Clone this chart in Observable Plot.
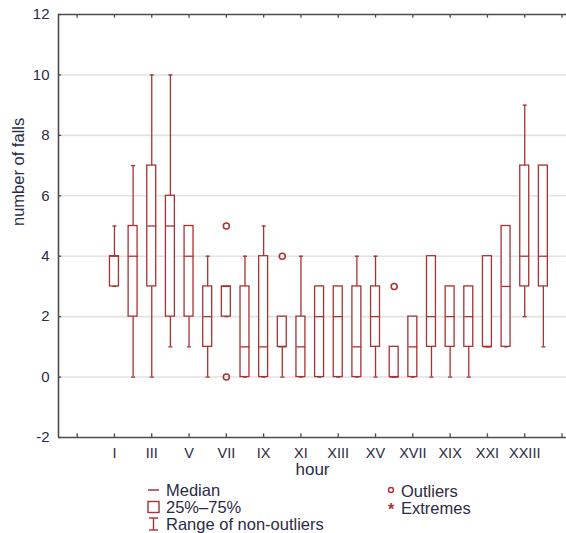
<!DOCTYPE html>
<html>
<head>
<meta charset="utf-8">
<script src="https://cdn.jsdelivr.net/npm/d3@7"></script>
<script src="https://cdn.jsdelivr.net/npm/@observablehq/plot@0.6"></script>
<style>
  html, body { margin: 0; padding: 0; background: #fff; }
  #wrap { position: relative; width: 566px; height: 533px; font-family: "Liberation Sans", Arial, sans-serif; color: #2b2b45; }
  .lg { position: absolute; font-size: 16.5px; line-height: 17px; height: 17px; white-space: nowrap; }
  .lg svg { position: absolute; left: -19px; top: 1px; overflow: visible; }
</style>
</head>
<body>
<div id="wrap"></div>
<script>
const hours = d3.range(1, 25);
const hourLabels = ["I","II","III","IV","V","VI","VII","VIII","IX","X","XI","XII","XIII","XIV","XV","XVI","XVII","XVIII","XIX","XX","XXI","XXII","XXIII","XXIV"];
const q1 =     [3,2,3,2,2,1,2,0,0,1,0,0,0,0,1,0,0,1,1,1,1,1,3,3];
const q3 =     [4,5,7,6,5,3,3,3,4,2,2,3,3,3,3,1,2,4,3,3,4,5,7,7];
const median = [4,4,5,5,4,2,3,1,1,1,1,2,2,1,2,0,1,2,2,2,1,3,4,4];
const lowWhisker =  [3,0,0,1,1,0,2,0,0,0,0,0,0,0,0,0,0,0,0,0,1,1,2,1];
const highWhisker = [5,7,10,10,5,4,3,4,5,2,4,3,3,4,4,1,2,4,3,3,4,5,9,7];
const outlierHours =  [7, 7, 10, 16];
const outlierValues = [5, 0, 4, 3];
const yTicks = [-2, 0, 2, 4, 6, 8, 10, 12];
const gridValues = [0, 2, 4, 6, 8, 10];
const xTickHours = [-1,1,3,5,7,9,11,13,15,17,19,21,23,25];

const boxes = hours.map((h, i) => ({h, q1: q1[i], q3: q3[i], med: median[i], lo: lowWhisker[i], hi: highWhisker[i]}));
const outliers = outlierHours.map((h, i) => ({h, v: outlierValues[i]}));

const red = "#a83232";
const frameColor = "#4d4d4d";
const textColor = "#2b2b45";
const bw = 0.24, cw = 0.11;

const chart = Plot.plot({
  width: 566,
  height: 480,
  marginTop: 14,
  marginBottom: 43,
  marginLeft: 58,
  marginRight: 0,
  style: {fontFamily: '"Liberation Sans", Arial, sans-serif', color: textColor, background: "#fff"},
  x: {domain: [-2, 25.24]},
  y: {domain: [-2, 12]},
  marks: [
    Plot.ruleY(gridValues, {stroke: "#e2e2e2", strokeWidth: 1.6}),
    Plot.axisY({ticks: yTicks, tickSize: 0, tickPadding: 9, fontSize: 15, label: null, fill: textColor, tickFormat: d => String(d)}),
    Plot.axisX({ticks: xTickHours.filter(t => t >= 1 && t <= 24), tickSize: 0, tickPadding: 10, fontSize: 14.5, label: null, fill: textColor,
      tickFormat: t => hourLabels[t - 1]}),
    // inner tick marks
    Plot.ruleX(xTickHours, {x: d => d, y1: -2, y2: -1.88, stroke: frameColor, strokeWidth: 1.3}),
    Plot.ruleX(xTickHours, {x: d => d, y1: 12, y2: 11.88, stroke: frameColor, strokeWidth: 1.3}),
    Plot.ruleY(yTicks, {y: d => d, x1: -2, x2: -1.83, stroke: frameColor, strokeWidth: 1.3}),
    // whiskers
    Plot.ruleX(boxes, {x: "h", y1: "lo", y2: "q1", stroke: red, strokeWidth: 1.3}),
    Plot.ruleX(boxes, {x: "h", y1: "q3", y2: "hi", stroke: red, strokeWidth: 1.3}),
    Plot.link(boxes, {x1: d => d.h - cw, x2: d => d.h + cw, y1: "lo", y2: "lo", stroke: red, strokeWidth: 1.3}),
    Plot.link(boxes, {x1: d => d.h - cw, x2: d => d.h + cw, y1: "hi", y2: "hi", stroke: red, strokeWidth: 1.3}),
    // boxes
    Plot.rect(boxes, {x1: d => d.h - bw, x2: d => d.h + bw, y1: "q1", y2: "q3", fill: "white", stroke: red, strokeWidth: 1.3}),
    Plot.link(boxes, {x1: d => d.h - bw, x2: d => d.h + bw, y1: "med", y2: "med", stroke: red, strokeWidth: 1.3}),
    // outliers
    Plot.dot(outliers, {x: "h", y: "v", r: 3, stroke: red, strokeWidth: 1.5, fill: "none"}),
    // frame
    Plot.ruleX([-2], {stroke: frameColor, strokeWidth: 1.6}),
    Plot.ruleY([-2, 12], {stroke: frameColor, strokeWidth: 1.6}),
    // axis titles
    Plot.text(["hour"], {frameAnchor: "bottom", dy: 32, fontSize: 17, lineAnchor: "middle", fill: textColor}),
    Plot.text(["number of falls"], {frameAnchor: "left", dx: -40, rotate: -90, fontSize: 16.5, lineAnchor: "middle", fill: textColor})
  ]
});

const wrap = document.getElementById("wrap");
wrap.appendChild(chart);

const legendItems = [
  {label: "Median", x: 166, y: 482, sym: `<line x1="1" y1="7" x2="12" y2="7" stroke="${red}" stroke-width="1.5"/>`},
  {label: "25%\u201375%", x: 166, y: 499, sym: `<rect x="1" y="1.5" width="11" height="11" fill="none" stroke="${red}" stroke-width="1.4"/>`},
  {label: "Range of non-outliers", x: 166, y: 516, sym: `<line x1="6.5" y1="1" x2="6.5" y2="13" stroke="${red}" stroke-width="1.4"/><line x1="2" y1="1" x2="11" y2="1" stroke="${red}" stroke-width="1.4"/><line x1="2" y1="13" x2="11" y2="13" stroke="${red}" stroke-width="1.4"/>`},
  {label: "Outliers", x: 401, y: 483, sym: `<circle cx="9" cy="6" r="2.5" fill="none" stroke="${red}" stroke-width="1.4"/>`},
  {label: "Extremes", x: 401, y: 500, sym: `<text x="9" y="14" font-size="16" font-weight="bold" text-anchor="middle" fill="${red}">*</text>`}
];
for (const it of legendItems) {
  const d = document.createElement("div");
  d.className = "lg";
  d.style.left = it.x + "px";
  d.style.top = it.y + "px";
  d.innerHTML = `<svg width="14" height="17">${it.sym}</svg>` + it.label;
  wrap.appendChild(d);
}
</script>
</body>
</html>
